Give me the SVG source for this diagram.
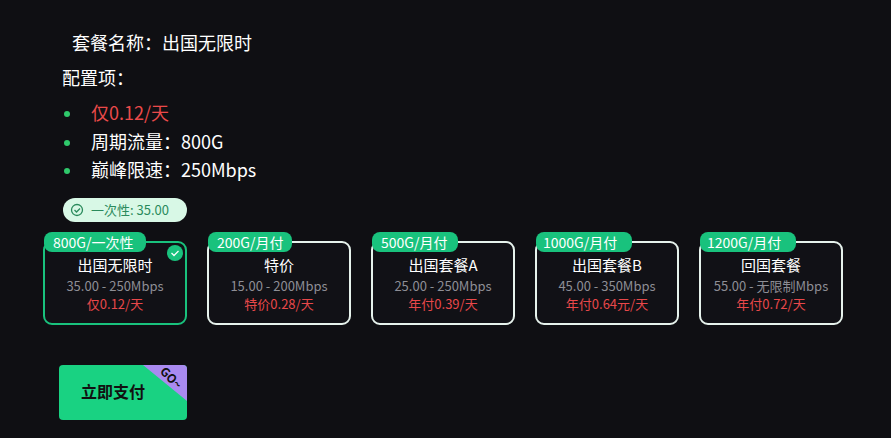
<svg xmlns="http://www.w3.org/2000/svg" width="891" height="438" viewBox="0 0 891 438">
<style>
text{font-family:"Noto Sans CJK SC","Noto Sans",sans-serif}
.card{fill:#111116;stroke:#e6f2ec;stroke-width:2}
.tag{fill:#19c27d}
.tagt{font-size:14px;fill:#fff}
.name{font-size:15px;fill:#fff;text-anchor:middle}
.spec{font-size:13px;fill:#8e8e95;text-anchor:middle}
.price{font-size:13px;fill:#e8484a;text-anchor:middle}
.main{font-size:18px;fill:#fff}
</style>
<rect width="891" height="438" fill="#0f0f13"/>
<g id="header">
<text x="72" y="50" class="main">套餐名称：出国无限时</text>
<text x="62" y="85" class="main">配置项：</text>
<circle cx="67" cy="114" r="3" fill="#2fc96b"/><text x="91" y="120" font-size="18" fill="#ea4a4a">仅0.12/天</text>
<circle cx="67" cy="143" r="3" fill="#2fc96b"/><text x="91" y="149" class="main">周期流量：800G</text>
<circle cx="67" cy="171" r="3" fill="#2fc96b"/><text x="91" y="177" class="main">巅峰限速：250Mbps</text>
</g>
<g id="badge">
<rect x="63" y="198" width="124" height="24" rx="12" fill="#d8f8e6"/>
<circle cx="77" cy="210" r="5.5" fill="none" stroke="#2a8a5c" stroke-width="1.3"/>
<path d="M74.5 210l2 2 3.5-3.5" fill="none" stroke="#2a8a5c" stroke-width="1.3"/>
<text x="91" y="215" font-size="13" fill="#2a8a5c">一次性: 35.00</text>
</g>
<g id="card1">
<rect x="44" y="242" width="142" height="82" rx="8" class="card" stroke="#19c27d" style="stroke:#19c27d"/>
<rect x="44" y="232" width="102" height="20" rx="8" class="tag"/>
<text x="53" y="248" class="tagt">800G/一次性</text>
<circle cx="175" cy="253" r="8" fill="#19c27d"/>
<path d="M171.5 253l2.5 2.5 4.5-4.5" fill="none" stroke="#fff" stroke-width="1.3"/>
<text x="115" y="271" class="name">出国无限时</text>
<text x="115" y="291" class="spec">35.00 - 250Mbps</text>
<text x="115" y="309" class="price">仅0.12/天</text>
</g>
<g id="card2">
<rect x="208" y="242" width="142" height="82" rx="8" class="card"/>
<rect x="208" y="232" width="84" height="20" rx="8" class="tag"/>
<text x="217" y="248" class="tagt">200G/月付</text>
<text x="279" y="271" class="name">特价</text>
<text x="279" y="291" class="spec">15.00 - 200Mbps</text>
<text x="279" y="309" class="price">特价0.28/天</text>
</g>
<g id="card3">
<rect x="372" y="242" width="142" height="82" rx="8" class="card"/>
<rect x="372" y="232" width="86" height="20" rx="8" class="tag"/>
<text x="381" y="248" class="tagt">500G/月付</text>
<text x="443" y="271" class="name">出国套餐A</text>
<text x="443" y="291" class="spec">25.00 - 250Mbps</text>
<text x="443" y="309" class="price">年付0.39/天</text>
</g>
<g id="card4">
<rect x="536" y="242" width="142" height="82" rx="8" class="card"/>
<rect x="536" y="232" width="96" height="20" rx="8" class="tag"/>
<text x="543" y="248" class="tagt">1000G/月付</text>
<text x="607" y="271" class="name">出国套餐B</text>
<text x="607" y="291" class="spec">45.00 - 350Mbps</text>
<text x="607" y="309" class="price">年付0.64元/天</text>
</g>
<g id="card5">
<rect x="700" y="242" width="142" height="82" rx="8" class="card"/>
<rect x="700" y="232" width="96" height="20" rx="8" class="tag"/>
<text x="707" y="248" class="tagt">1200G/月付</text>
<text x="771" y="271" class="name">回国套餐</text>
<text x="771" y="291" class="spec">55.00 - 无限制Mbps</text>
<text x="771" y="309" class="price">年付0.72/天</text>
</g>
<g id="pay">
<rect x="59" y="365" width="128" height="55" rx="4" fill="#19d282"/>
<path d="M143 365h40a4 4 0 0 1 4 4v32z" fill="#a98af0"/>
<text x="0" y="0" font-size="12" font-weight="bold" fill="#111" text-anchor="middle" transform="translate(168 381) rotate(45)">GO~</text>
<text x="113" y="398" font-size="16" font-weight="bold" fill="#111" text-anchor="middle">立即支付</text>
</g>
</svg>
